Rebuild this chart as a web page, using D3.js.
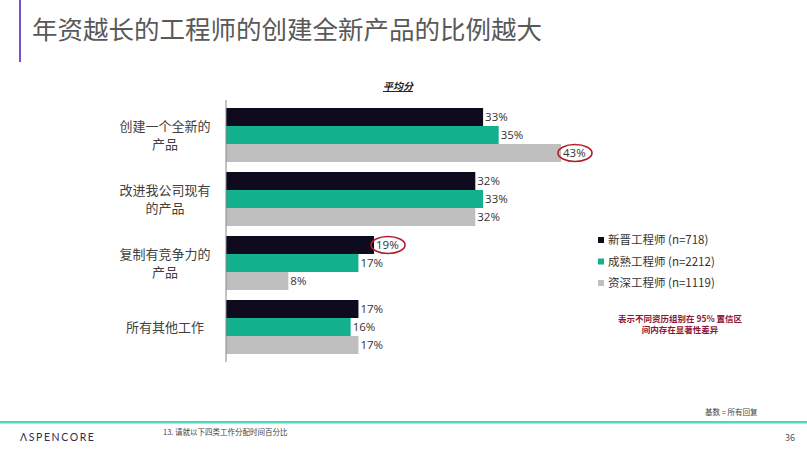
<!DOCTYPE html>
<html>
<head>
<meta charset="utf-8">
<script src="https://cdn.jsdelivr.net/npm/d3@7"></script>
<style>
  body { margin: 0; background: #fff; }
  svg { display: block; font-family: "Noto Sans CJK SC", "Noto Sans", sans-serif; }
</style>
</head>
<body>
<svg width="807" height="452"></svg>
<script>
// data
const categories = [['创建一个全新的', '产品'], ['改进我公司现有', '的产品'], ['复制有竞争力的', '产品'], ['所有其他工作']];
const seriesNames = ['新晋工程师 (n=718)', '成熟工程师 (n=2212)', '资深工程师 (n=1119)'];
const junior = [33, 32, 19, 17];
const mature = [35, 33, 17, 16];
const senior = [43, 32, 8, 17];
// significant differences (category index, series index)
const highlights = [[0, 2], [2, 0]];

const svg = d3.select('svg');
const colors = ['#0e0b1f', '#13b08e', '#bfbfbf'];
const allSeries = [junior, mature, senior];

// title + decorations
svg.append('rect').attr('x', 19).attr('y', 0).attr('width', 2).attr('height', 62).attr('fill', '#7b4fc9');
svg.append('text').attr('x', 32).attr('y', 39)
    .attr('font-size', 25.5).attr('fill', '#595959')
    .text('年资越长的工程师的创建全新产品的比例越大');

const x0 = 226;
const xEscala = d3.scaleLinear().domain([0, 43]).range([x0, 561]);
const yEscala = d3.scaleBand()
    .domain(d3.range(categories.length))
    .range([103, 359])
    .paddingInner(0.15625)
    .paddingOuter(0.078);
const yInner = d3.scaleBand().domain(d3.range(3)).range([0, yEscala.bandwidth()]);

// header
svg.append('text').attr('x', 398).attr('y', 90)
    .attr('text-anchor', 'middle').attr('font-size', 10).attr('font-weight', 'bold')
    .attr('font-style', 'italic').attr('text-decoration', 'underline').attr('fill', '#222')
    .text('平均分');

const g = svg.append('g');
categories.forEach((cat, i) => {
    const grp = g.append('g').attr('transform', `translate(0,${yEscala(i)})`);
    allSeries.forEach((s, j) => {
        grp.append('rect')
            .attr('x', x0)
            .attr('y', yInner(j))
            .attr('width', xEscala(s[i]) - x0)
            .attr('height', yInner.bandwidth())
            .attr('fill', colors[j]);
        grp.append('text')
            .attr('x', xEscala(s[i]) + 2)
            .attr('y', yInner(j) + yInner.bandwidth() / 2)
            .attr('dy', '0.36em')
            .attr('font-size', 11.5).attr('fill', '#333')
            .attr('font-family', 'Open Sans, sans-serif')
            .text(s[i] + '%');
    });
    // category label
    const lines = cat;
    const cy = yEscala(i) + yEscala.bandwidth() / 2;
    lines.forEach((l, k) => {
        g.append('text')
            .attr('x', 165)
            .attr('y', cy + (k - (lines.length - 1) / 2) * 18)
            .attr('dy', '0.36em')
            .attr('text-anchor', 'middle')
            .attr('font-size', 13).attr('fill', '#404040')
            .text(l);
    });
});

// highlight ellipses
highlights.forEach(([i, j]) => {
    const v = allSeries[j][i];
    svg.append('ellipse')
        .attr('cx', xEscala(v) + 14)
        .attr('cy', yEscala(i) + yInner(j) + yInner.bandwidth() / 2)
        .attr('rx', 17).attr('ry', 8.5)
        .attr('fill', 'none').attr('stroke', '#b0202a').attr('stroke-width', 1.6);
});

// axis line
svg.append('line').attr('x1', x0).attr('x2', x0).attr('y1', 100).attr('y2', 362)
    .attr('stroke', '#888').attr('stroke-width', 1);

// legend
const leg = svg.append('g').attr('transform', 'translate(598,240)');
seriesNames.forEach((n, j) => {
    leg.append('rect').attr('x', 0).attr('y', j * 21.5 - 3).attr('width', 6).attr('height', 6).attr('fill', colors[j]);
    leg.append('text').attr('x', 10).attr('y', j * 21.5).attr('dy', '0.36em')
        .attr('font-size', 11.5).attr('fill', '#333').text(n);
});
svg.append('text').attr('x', 680).attr('y', 322).attr('text-anchor', 'middle')
    .attr('font-size', 8.5).attr('font-weight', 'bold').attr('fill', '#8a1538')
    .text('表示不同资历组别在 95% 置信区');
svg.append('text').attr('x', 680).attr('y', 333).attr('text-anchor', 'middle')
    .attr('font-size', 8.5).attr('font-weight', 'bold').attr('fill', '#8a1538')
    .text('间内存在显著性差异');

// footer
svg.append('text').attr('x', 705).attr('y', 415).attr('font-size', 7.5).attr('fill', '#444').text('基数 = 所有回复');
svg.append('rect').attr('x', 0).attr('y', 421).attr('width', 807).attr('height', 2.5).attr('fill', '#4fd8c0');
svg.append('text').attr('x', 20).attr('y', 441).attr('font-size', 10.5).attr('letter-spacing', 1.6)
    .attr('font-family', 'Lato, sans-serif').attr('fill', '#2d2c4c').text('ΛSPENCORE');
svg.append('text').attr('x', 163).attr('y', 435).attr('font-size', 7.5).attr('fill', '#444')
    .text('13. 请就以下四类工作分配时间百分比');
svg.append('text').attr('x', 790).attr('y', 441).attr('font-size', 9).attr('fill', '#555')
    .attr('text-anchor', 'middle').text('36');
</script>
</body>
</html>
